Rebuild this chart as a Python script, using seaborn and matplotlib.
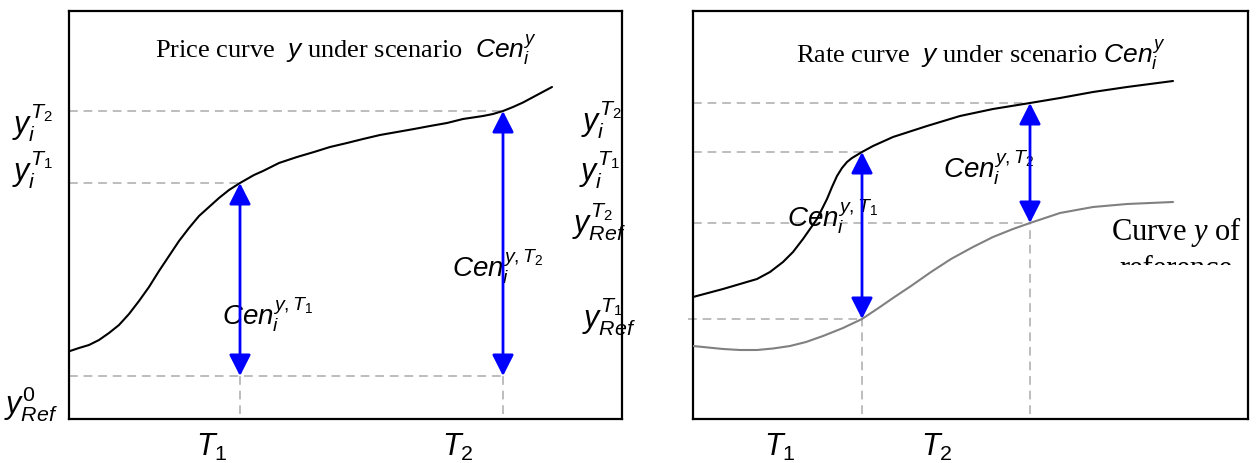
import numpy as np
import pandas as pd
import matplotlib
matplotlib.use("Agg")
import matplotlib.pyplot as plt
import seaborn as sns
from matplotlib.patches import Rectangle

# ------------------------------------------------------------
# data (arbitrary units)
# ------------------------------------------------------------
# left panel: price curve
price_x = [1, 10, 20, 30, 40, 50, 60, 70, 80, 90, 100, 110, 120, 130, 140,
           150, 160, 171, 185, 194, 210, 228, 245, 261, 278, 294, 311, 328,
           345, 361, 378, 394, 414, 424, 434, 444, 454, 468, 483]
price_y = [68, 71, 74, 79, 86, 94, 105, 118, 132, 148, 163, 178, 191, 203,
           212, 221, 229, 236, 244, 248, 256, 262, 267, 272, 276, 280, 284,
           287, 290, 293, 296, 300, 303, 305, 308, 312, 316.5, 324, 332]
price_T = [171, 434]          # T1, T2
price_yi = [236, 308]         # y_i^T1, y_i^T2
price_ref0 = 43               # y_Ref^0

# right panel: rate curve + reference curve
rate_x = [0, 15, 30, 47, 64, 77, 90, 100, 110, 117, 124, 129, 134, 139, 144,
          149, 154, 159, 164, 169, 180, 200, 234, 267, 300, 337, 367, 400,
          434, 480]
rate_y = [122, 126, 130, 135, 140, 147, 157, 167, 180, 190, 200, 210, 220,
          232, 243, 251, 257, 261, 264, 267, 273, 282, 293, 303, 310, 316,
          321, 327, 332, 338]
ref_x = [0, 15, 30, 47, 64, 80, 97, 113, 130, 150, 169, 187, 200, 218, 238,
         258, 280, 300, 320, 337, 367, 400, 434, 480]
ref_y = [73, 71.5, 70, 69, 69, 70.5, 73, 77, 83, 91, 100, 112, 121, 133, 147,
         160, 172, 182, 190, 196, 206, 212, 215, 217]
rate_T = [169, 337]
rate_yi = [267, 316]
rate_yref = [100, 196]

# ------------------------------------------------------------
sns.set_style("white")
plt.rcParams['font.family'] = ['Liberation Serif', 'DejaVu Serif']
plt.rcParams['text.color'] = 'black'
plt.rcParams['mathtext.fontset'] = 'custom'
plt.rcParams['mathtext.rm'] = 'Liberation Sans'
plt.rcParams['mathtext.it'] = 'Liberation Sans:italic'
plt.rcParams['mathtext.bf'] = 'Liberation Serif:italic'

W, H = 1257, 464
fig = plt.figure(figsize=(W / 100, H / 100), dpi=100)


def fx(px):
    return px / W


def fy(py):
    return 1 - py / H


ax1 = fig.add_axes([fx(69), fy(420), 553 / W, 408 / H])
ax2 = fig.add_axes([fx(693), fy(420), 555 / W, 408 / H])

dash_kw = dict(color='#bdbdbd', lw=1.4, ls=(0, (4.5, 3)), zorder=1)
arrow_kw = dict(arrowstyle='<|-|>,head_length=0.65,head_width=0.33',
                color='blue', lw=2, mutation_scale=20, shrinkA=0, shrinkB=0)

for ax in (ax1, ax2):
    for s in ax.spines.values():
        s.set_color('black')
        s.set_linewidth(1.6)

# ---- left panel
df1 = pd.DataFrame({'t': price_x, 'y': price_y})
sns.lineplot(data=df1, x='t', y='y', ax=ax1, color='black', lw=1.5,
             sort=False, zorder=3)
for t, yv in zip(price_T, price_yi):
    ax1.hlines(yv, 0, t, **dash_kw)
ax1.hlines(price_ref0, 0, price_T[1], **dash_kw)
for t, yv in zip(price_T, price_yi):
    ax1.vlines(t, 5, price_ref0, **dash_kw)
    ax1.annotate('', xy=(t, yv), xytext=(t, price_ref0), arrowprops=arrow_kw,
                 zorder=4)
ax1.set_xlim(0, 553)
ax1.set_ylim(0, 408)
ax1.set_xticks([])
ax1.set_yticks([])
ax1.set_xlabel('')
ax1.set_ylabel('')

ax1.text(277, 370, r'Price curve  $y$ under scenario  $Cen_i^y$',
         ha='center', va='center', fontsize=19)
ax1.text(153, 95, r'$Cen_i^{y,T_1}$', ha='left', va='baseline', fontsize=20)
ax1.text(383, 143, r'$Cen_i^{y,T_2}$', ha='left', va='baseline', fontsize=20)

# ---- right panel
df2 = pd.DataFrame({'t': rate_x, 'y': rate_y})
df3 = pd.DataFrame({'t': ref_x, 'y': ref_y})
sns.lineplot(data=df2, x='t', y='y', ax=ax2, color='black', lw=1.5,
             sort=False, zorder=3)
sns.lineplot(data=df3, x='t', y='y', ax=ax2, color='#808080', lw=1.5,
             sort=False, zorder=3)
ax2.hlines(rate_yi[1], 0, rate_T[1], **dash_kw)
ax2.hlines(rate_yi[0], 0, rate_T[0], **dash_kw)
ax2.hlines(rate_yref[1], 0, rate_T[1], **dash_kw)
ax2.hlines(rate_yref[0], -5, rate_T[0], clip_on=False, **dash_kw)
for t, yv, yr in zip(rate_T, rate_yi, rate_yref):
    ax2.vlines(t, 5, yr, **dash_kw)
    ax2.annotate('', xy=(t, yv), xytext=(t, yr), arrowprops=arrow_kw,
                 zorder=4)
ax2.set_xlim(0, 555)
ax2.set_ylim(0, 408)
ax2.set_xticks([])
ax2.set_yticks([])
ax2.set_xlabel('')
ax2.set_ylabel('')

ax2.text(288, 365, r'Rate curve  $y$ under scenario $Cen_i^y$',
         ha='center', va='center', fontsize=19)
ax2.text(94, 193, r'$Cen_i^{y,T_1}$', ha='left', va='baseline', fontsize=20)
ax2.text(250, 242, r'$Cen_i^{y,T_2}$', ha='left', va='baseline', fontsize=20)
ax2.text(483, 180, r'Curve $\mathbf{y}$ of', ha='center', va='baseline',
         fontsize=22)
ax2.text(483, 143, 'reference', ha='center', va='baseline', fontsize=22,
         zorder=2)
# the second line of the note is cut off in the source picture
ax2.add_patch(Rectangle((fx(1092), fy(300)), fx(153), 34 / H,
                        transform=fig.transFigure, facecolor='white',
                        edgecolor='none', zorder=5, clip_on=False))

# ---- outer labels
lab = 22
fig.text(fx(33), fy(123), r'$y_i^{T_2}$', ha='center', va='center', fontsize=lab)
fig.text(fx(33), fy(170), r'$y_i^{T_1}$', ha='center', va='center', fontsize=lab)
fig.text(fx(31), fy(404), r'$y_{Ref}^0$', ha='center', va='center', fontsize=lab)
fig.text(fx(602), fy(120), r'$y_i^{T_2}$', ha='center', va='center', fontsize=lab)
fig.text(fx(600), fy(170), r'$y_i^{T_1}$', ha='center', va='center', fontsize=lab)
fig.text(fx(599), fy(222), r'$y_{Ref}^{T_2}$', ha='center', va='center', fontsize=lab)
fig.text(fx(609), fy(317), r'$y_{Ref}^{T_1}$', ha='center', va='center', fontsize=lab)

for px, lbl in zip([212, 458, 780, 937],
                   [r'$T_1$', r'$T_2$', r'$T_1$', r'$T_2$']):
    fig.text(fx(px), fy(447), lbl, ha='center', va='center', fontsize=22)

fig.savefig('out.png', dpi=100)
